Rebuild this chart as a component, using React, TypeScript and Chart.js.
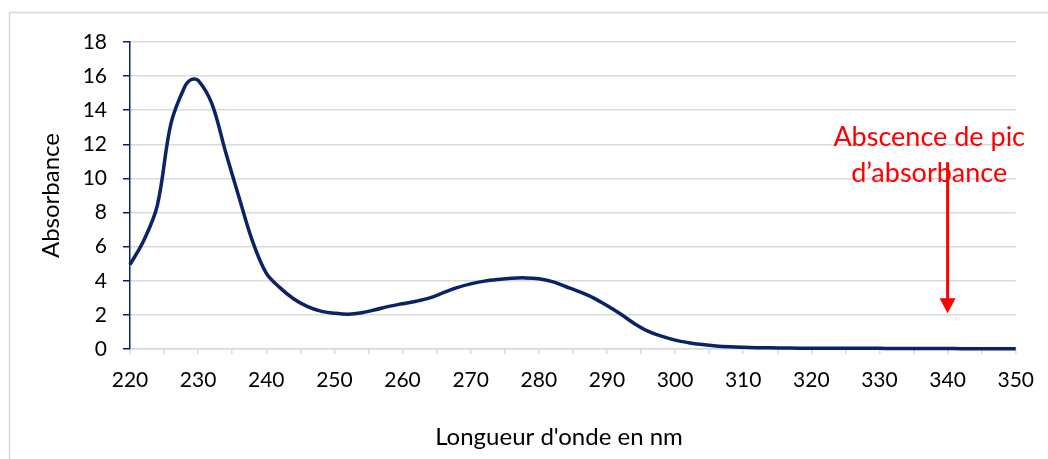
import React, { useEffect, useRef } from "react";
import { Chart, registerables } from "chart.js";

Chart.register(...registerables);

// Wavelength (nm) and measured absorbance
const wavelengths = [
  220, 222, 224, 226, 228, 229, 230, 232, 234, 236, 238, 240, 242, 244, 246, 248,
  250, 252, 254, 256, 258, 260, 262, 264, 266, 268, 270, 272, 274, 276, 278, 280,
  282, 284, 286, 288, 290, 292, 294, 296, 298, 300, 302, 304, 306, 308, 310, 312,
  314, 316, 318, 320, 322, 324, 326, 328, 330, 332, 334, 336, 338, 340, 342, 344,
  346, 348, 350,
];
const absorbance = [
  4.95, 6.35, 8.4, 13.2, 15.35, 15.8, 15.75, 14.4, 11.6, 8.9, 6.3, 4.45, 3.6, 2.95, 2.5, 2.22,
  2.1, 2.04, 2.12, 2.3, 2.5, 2.65, 2.8, 3.0, 3.3, 3.6, 3.82, 3.98, 4.08, 4.15, 4.17, 4.12,
  3.95, 3.65, 3.35, 3.0, 2.55, 2.05, 1.5, 1.05, 0.75, 0.52, 0.37, 0.26, 0.18, 0.13, 0.1, 0.08,
  0.07, 0.06, 0.05, 0.05, 0.04, 0.04, 0.04, 0.04, 0.04, 0.03, 0.03, 0.03, 0.03, 0.03, 0.02, 0.02,
  0.02, 0.02, 0.02,
];

// Axis ranges
const X_MIN = 220;
const X_MAX = 350;
const Y_MIN = 0;
const Y_MAX = 18;
const Y_STEP = 2;

// Annotation: text and arrow pointing at the flat end of the spectrum
const noteLines = ["Abscence de pic", "d\u2019absorbance"];
const noteX = 337.3;
const noteY = [12.43, 10.32];
const arrowX = 340;
const arrowFrom = 10.95;
const arrowTo = 2.1;

const xTitle = "Longueur d'onde en nm";
const yTitle = "Absorbance";

const FONT = "Lato, 'Open Sans', sans-serif";
const LINE_COLOR = "#0a2366";
const GRID_COLOR = "#d9d9d9";
const NOTE_COLOR = "#ff0000";

const framePlugin = {
  id: "frame",
  beforeDraw(chart: any) {
    const { ctx, width, height } = chart;
    ctx.save();
    ctx.fillStyle = "#ffffff";
    ctx.fillRect(0, 0, width, height);
    ctx.strokeStyle = GRID_COLOR;
    ctx.lineWidth = 1.5;
    ctx.beginPath();
    ctx.moveTo(9.5, height + 2);
    ctx.lineTo(9.5, 12.5);
    ctx.lineTo(width + 2, 12.5);
    ctx.stroke();
    ctx.restore();
  },
};

const notePlugin = {
  id: "note",
  afterDatasetsDraw(chart: any) {
    const { ctx } = chart;
    const xs = chart.scales.x;
    const ys = chart.scales.y;
    ctx.save();
    // x-axis title
    ctx.fillStyle = "#000000";
    ctx.font = `24px ${FONT}`;
    ctx.textAlign = "center";
    ctx.textBaseline = "middle";
    ctx.fillText(xTitle, 559, 437);

    // annotation text
    ctx.fillStyle = NOTE_COLOR;
    ctx.font = `27px ${FONT}`;
    const tx = xs.getPixelForValue(noteX);
    noteLines.forEach((line, i) => {
      ctx.fillText(line, tx, ys.getPixelForValue(noteY[i]));
    });

    // arrow
    const ax = xs.getPixelForValue(arrowX);
    const y0 = ys.getPixelForValue(arrowFrom);
    const y1 = ys.getPixelForValue(arrowTo);
    const head = 15;
    ctx.strokeStyle = NOTE_COLOR;
    ctx.lineWidth = 3;
    ctx.beginPath();
    ctx.moveTo(ax, y0);
    ctx.lineTo(ax, y1 - head + 1);
    ctx.stroke();
    ctx.beginPath();
    ctx.moveTo(ax - 8, y1 - head);
    ctx.lineTo(ax + 8, y1 - head);
    ctx.lineTo(ax, y1);
    ctx.closePath();
    ctx.fill();
    ctx.restore();
  },
};

export default function App() {
  const canvasRef = useRef<HTMLCanvasElement | null>(null);

  useEffect(() => {
    document.body.style.margin = "0";
    const canvas = canvasRef.current;
    if (!canvas) return;
    const points = wavelengths.map((w, i) => ({ x: w, y: absorbance[i] }));
    const chart = new Chart(canvas, {
      type: "line",
      data: {
        datasets: [
          {
            data: points,
            borderColor: LINE_COLOR,
            borderWidth: 3.5,
            pointRadius: 0,
            tension: 0.35,
            fill: false,
            clip: false as any,
          },
        ],
      },
      options: {
        animation: false,
        responsive: false,
        maintainAspectRatio: false,
        layout: { padding: { left: 33, right: 32, top: 42, bottom: 0 } },
        plugins: {
          legend: { display: false },
          tooltip: { enabled: false },
        },
        scales: {
          x: {
            type: "linear",
            min: X_MIN,
            max: X_MAX,
            afterFit(scale: any) {
              scale.height = 110;
            },
            afterBuildTicks(scale: any) {
              const t = [];
              for (let v = X_MIN; v <= X_MAX; v += 5) t.push({ value: v });
              scale.ticks = t;
            },
            ticks: {
              autoSkip: false,
              maxRotation: 0,
              padding: 14,
              color: "#000000",
              font: { family: FONT, size: 21 },
              callback: (v: any) => (Number(v) % 10 === 0 ? String(v) : ""),
            },
            grid: {
              drawOnChartArea: false,
              drawTicks: true,
              tickLength: 5,
              tickColor: GRID_COLOR,
              lineWidth: 1.5,
            },
            border: { color: GRID_COLOR, width: 1.5 },
          },
          y: {
            min: Y_MIN,
            max: Y_MAX,
            afterFit(scale: any) {
              scale.width = 97;
            },
            ticks: {
              stepSize: Y_STEP,
              padding: 16,
              color: "#000000",
              font: { family: FONT, size: 21 },
            },
            grid: {
              color: GRID_COLOR,
              lineWidth: 1.5,
              tickLength: 7,
              tickColor: LINE_COLOR,
            },
            border: { color: LINE_COLOR, width: 1.5 },
            title: {
              display: true,
              text: yTitle,
              color: "#000000",
              font: { family: FONT, size: 24 },
              padding: { top: 4, bottom: 4 },
            },
          },
        },
      },
      plugins: [framePlugin, notePlugin],
    });
    return () => chart.destroy();
  }, []);

  return (
    <div style={{ position: "absolute", left: 0, top: 0, width: 1048, height: 459 }}>
      <canvas ref={canvasRef} width={1048} height={459} />
    </div>
  );
}
